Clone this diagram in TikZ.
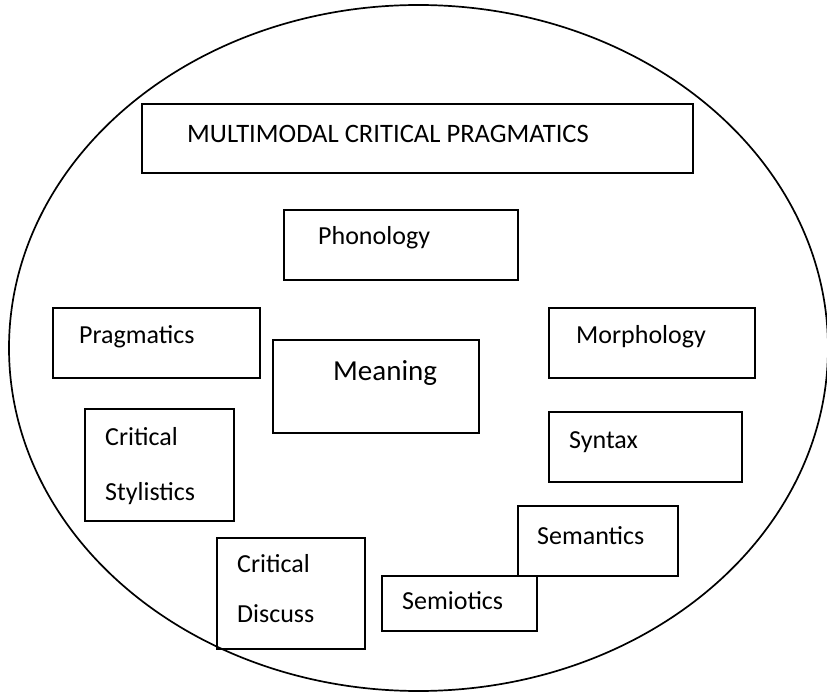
\documentclass[tikz,border=0pt]{standalone}
\usepackage{fontspec}
\setmainfont{Carlito}
\begin{document}
\begin{tikzpicture}[x=1pt,y=-1pt,
  box/.style={draw, line width=1.7pt, inner sep=0pt, anchor=north west},
  lbl/.style={inner sep=0pt, anchor=base west, font=\fontsize{26}{30}\selectfont},
  biglbl/.style={inner sep=0pt, anchor=base west, font=\fontsize{29}{33}\selectfont}]
\useasboundingbox (0,0) rectangle (827,692);
\fill[white] (0,0) rectangle (827,692);
\draw[line width=1.7pt] (418.5,348) ellipse [x radius=409.5pt, y radius=343pt];
% boxes
\node[box, minimum width=551pt, minimum height=69pt] (mcp) at (141,103) {};
\node[box, minimum width=234pt, minimum height=70pt] (phon) at (283,209) {};
\node[box, minimum width=207pt, minimum height=70pt] (prag) at (52,307) {};
\node[box, minimum width=206pt, minimum height=70pt] (morph) at (548,307) {};
\node[box, minimum width=206pt, minimum height=93pt] (mean) at (272,339) {};
\node[box, minimum width=149pt, minimum height=112pt] (cstyl) at (84,408) {};
\node[box, minimum width=193pt, minimum height=70pt] (synt) at (548,411) {};
\node[box, minimum width=160pt, minimum height=70pt] (seman) at (517,505) {};
\node[box, minimum width=155pt, minimum height=55pt] (semio) at (381,575) {};
\node[box, minimum width=148pt, minimum height=111pt] (cdisc) at (216,537) {};
% labels
\node[lbl, font=\fontsize{26.6}{30}\selectfont] (tmcp) at (187,143) {MULTIMODAL CRITICAL PRAGMATICS};
\node[lbl] (tphon) at (318,245) {Phonology};
\node[lbl] (tprag) at (79,344) {Pragmatics};
\node[lbl] (tmorph) at (576,344) {Morphology};
\node[biglbl] (tmean) at (333,381) {Meaning};
\node[lbl] (tcs1) at (105,445) {Critical};
\node[lbl] (tcs2) at (105,500) {Stylistics};
\node[lbl] (tsynt) at (569,448) {Syntax};
\node[lbl] (tseman) at (537,544) {Semantics};
\node[lbl] (tsemio) at (402,609) {Semiotics};
\node[lbl] (tcd1) at (237,572) {Critical};
\node[lbl] (tcd2) at (237,622) {Discuss};
\end{tikzpicture}
\end{document}
